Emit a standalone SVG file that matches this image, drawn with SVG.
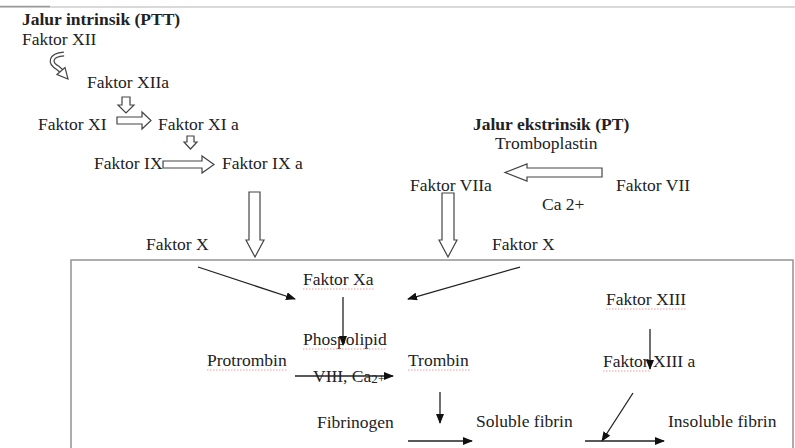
<svg xmlns="http://www.w3.org/2000/svg" width="795" height="448" viewBox="0 0 795 448">
<defs>
<style>
.t{font-family:"Liberation Serif","Times New Roman",serif;font-size:17.5px;fill:#222}
.b{font-weight:bold}
.h{fill:#fff;stroke:#444;stroke-width:1.2;stroke-linejoin:miter}
.ln{stroke:#222;stroke-width:1.3;fill:none}
.sp{stroke:#e99;stroke-width:1;fill:none;stroke-dasharray:1.5 1.5}
</style>
<marker id="ah" viewBox="0 0 10 8" refX="9" refY="4" markerWidth="10" markerHeight="8" markerUnits="userSpaceOnUse" orient="auto">
<path d="M0,0 L10,4 L0,8 Z" fill="#111"/>
</marker>
</defs>
<rect width="795" height="448" fill="#fff"/>
<line x1="0" y1="7" x2="795" y2="7" stroke="#ccc" stroke-width="1.5"/>
<line x1="0" y1="6.5" x2="50" y2="6.5" stroke="#999" stroke-width="1.5"/>
<rect id="box" x="71" y="260" width="722" height="200" fill="none" stroke="#999" stroke-width="1.6"/>

<g id="intrinsic-title"><text class="t b" x="22" y="25">Jalur intrinsik (PTT)</text></g>
<g id="faktor-xii"><text class="t" x="22" y="45">Faktor XII</text></g>
<g id="faktor-xiia"><text class="t" x="87" y="88">Faktor XIIa</text></g>
<g id="faktor-xi"><text class="t" x="38" y="130">Faktor XI</text></g>
<g id="faktor-xia"><text class="t" x="158" y="130">Faktor XI a</text></g>
<g id="faktor-ix"><text class="t" x="94" y="169">Faktor IX</text></g>
<g id="faktor-ixa"><text class="t" x="222" y="169">Faktor IX a</text></g>
<g id="extrinsic-title"><text class="t b" x="473" y="130">Jalur ekstrinsik (PT)</text></g>
<g id="tromboplastin"><text class="t" x="495" y="149">Tromboplastin</text></g>
<g id="faktor-viia"><text class="t" x="410" y="191">Faktor VIIa</text></g>
<g id="faktor-vii"><text class="t" x="616" y="191">Faktor VII</text></g>
<g id="ca"><text class="t" x="542" y="210">Ca 2+</text></g>
<g id="faktor-x-left"><text class="t" x="146" y="250">Faktor X</text></g>
<g id="faktor-x-right"><text class="t" x="492" y="250">Faktor X</text></g>
<g id="faktor-xa"><text class="t" x="303" y="285">Faktor Xa</text><path class="sp" d="M303,289 H374"/></g>
<g id="phospolipid"><text class="t" x="303" y="345">Phospolipid</text><path class="sp" d="M303,349 H386"/></g>
<g id="protrombin"><text class="t" x="207" y="366">Protrombin</text><path class="sp" d="M207,370 H287"/></g>
<g id="cofactors"><text class="t" x="313" y="382">VIII, Ca<tspan font-size="13" dy="1">2+</tspan></text></g>
<g id="trombin"><text class="t" x="408" y="366">Trombin</text><path class="sp" d="M408,370 H470"/></g>
<g id="fibrinogen"><text class="t" x="317" y="428">Fibrinogen</text></g>
<g id="soluble-fibrin"><text class="t" x="476" y="427">Soluble fibrin</text></g>
<g id="faktor-xiii"><text class="t" x="606" y="305">Faktor XIII</text><path class="sp" d="M606,309 H687"/></g>
<g id="faktor-xiiia"><text class="t" x="603" y="367">Faktor XIII a</text><path class="sp" d="M603,371 H650"/></g>
<g id="insoluble-fibrin"><text class="t" x="668" y="427">Insoluble fibrin</text></g>

<g id="connectors">
<path d="M64,54 C50,55 49,63 58,68 L62,71.5" fill="none" stroke="#444" stroke-width="5"/>
<path d="M64,54 C50,55 49,63 58,68 L62,71.5" fill="none" stroke="#fff" stroke-width="2.6"/>
<polygon class="h" points="57,74.5 65,67.5 68,79"/>
<polygon class="h" points="122,97 130,97 130,105 134,105 126,113 118,105 122,105"/>
<polygon class="h" points="117,117 142,117 142,112 151,120.5 142,129 142,124 117,124"/>
<polygon class="h" points="187,136 194,136 194,142 197,142 190.5,149 184,142 187,142"/>
<polygon class="h" points="163,161 202,161 202,156 214,164.5 202,173 202,168 163,168"/>
<polygon class="h" points="249,192 260,192 260,240 264,240 255,257 246,240 249,240"/>
<polygon class="h" points="442,193 454,193 454,240 457,240 448,257 439,240 442,240"/>
<polygon class="h" points="602,168 527,168 527,164 505,172.5 527,181 527,177 602,177"/>
<line class="ln" x1="198" y1="267" x2="295" y2="299" marker-end="url(#ah)"/>
<line class="ln" x1="520" y1="267" x2="408" y2="299" marker-end="url(#ah)"/>
<line class="ln" x1="343" y1="297" x2="343" y2="345" marker-end="url(#ah)"/>
<line class="ln" x1="295" y1="376" x2="393" y2="376" marker-end="url(#ah)"/>
<line class="ln" x1="440" y1="392" x2="440" y2="423" marker-end="url(#ah)"/>
<line class="ln" x1="408" y1="441" x2="472" y2="441" marker-end="url(#ah)"/>
<line class="ln" x1="650" y1="329" x2="650" y2="369" marker-end="url(#ah)"/>
<line class="ln" x1="633" y1="393" x2="602" y2="441" marker-end="url(#ah)"/>
<line class="ln" x1="585" y1="441" x2="664" y2="441" marker-end="url(#ah)"/>
</g>
</svg>
